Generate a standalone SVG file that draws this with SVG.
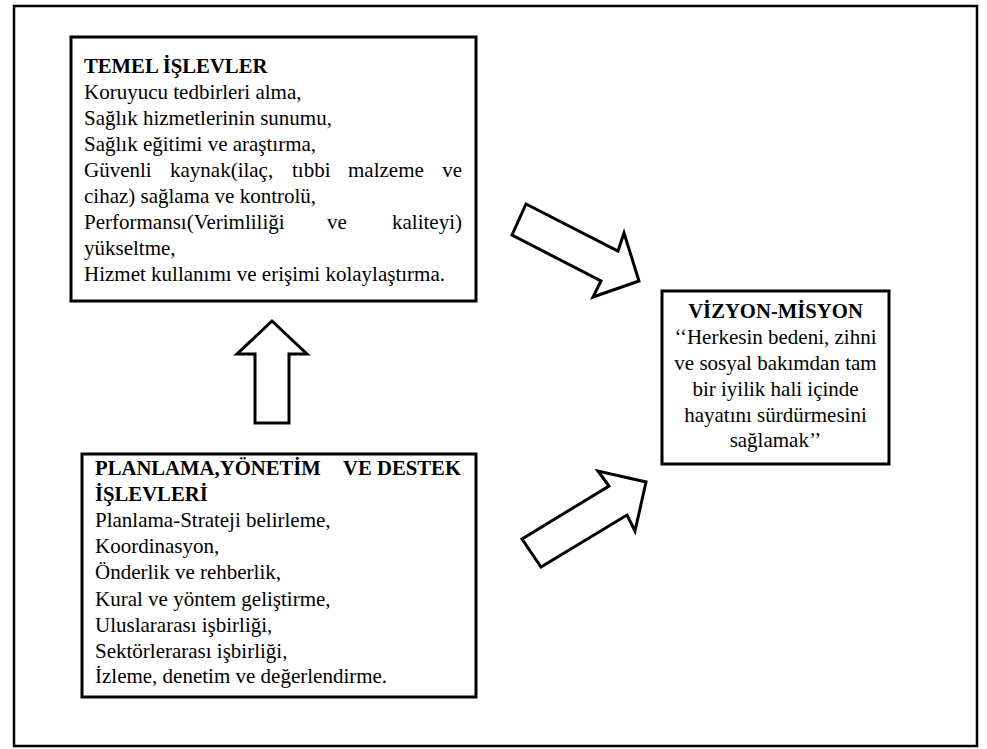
<svg xmlns="http://www.w3.org/2000/svg" width="987" height="749" viewBox="0 0 987 749">
  <style>
    .frame { fill: #ffffff; stroke: #000000; stroke-width: 2.5; }
    .box { fill: #ffffff; stroke: #000000; stroke-width: 3; }
    .arrow { fill: #ffffff; stroke: #000000; stroke-width: 3; stroke-linejoin: miter; }
    text { font-family: "Liberation Serif", "Times New Roman", serif; font-size: 21px; fill: #000000; }
    .title { font-weight: bold; font-size: 20.7px; }
    .mid { text-anchor: middle; }
  </style>

  <!-- outer border -->
  <rect class="frame" x="14" y="6" width="963" height="740"/>

  <!-- block arrows -->
  <g id="connectors">
    <polygon class="arrow" points="526,204 618,251 624,233 639,281 593,297 601,281 512,235"/>
    <polygon class="arrow" points="522,539 609,486 598,471 646,482 635,531 627,515 541,567"/>
    <polygon class="arrow" points="272,321 307,354 289,354 289,423 255,423 255,354 237,354"/>
  </g>

  <!-- core functions -->
  <g id="temel-islevler">
    <rect class="box" x="71" y="37" width="405" height="264"/>
    <text class="title" x="84" y="73">TEMEL İŞLEVLER</text>
    <text x="84" y="99">Koruyucu tedbirleri alma,</text>
    <text x="84" y="125">Sağlık hizmetlerinin sunumu,</text>
    <text x="84" y="151">Sağlık eğitimi ve araştırma,</text>
    <text y="177"><tspan x="84">Güvenli</tspan><tspan x="170">kaynak(ilaç,</tspan><tspan x="292">tıbbi</tspan><tspan x="348">malzeme</tspan><tspan x="462" text-anchor="end">ve</tspan></text>
    <text x="84" y="203">cihaz) sağlama ve kontrolü,</text>
    <text y="229"><tspan x="84">Performansı(Verimliliği</tspan><tspan x="327">ve</tspan><tspan x="462" text-anchor="end">kaliteyi)</tspan></text>
    <text x="84" y="255">yükseltme,</text>
    <text x="84" y="281">Hizmet kullanımı ve erişimi kolaylaştırma.</text>
  </g>

  <!-- planning, management and support functions -->
  <g id="planlama-yonetim-destek">
    <rect class="box" x="82" y="454" width="394" height="243"/>
    <text class="title" y="475"><tspan x="95">PLANLAMA,YÖNETİM</tspan><tspan x="343">VE</tspan><tspan x="461" text-anchor="end">DESTEK</tspan></text>
    <text class="title" x="95" y="501">İŞLEVLERİ</text>
    <text x="95" y="527">Planlama-Strateji belirleme,</text>
    <text x="95" y="553">Koordinasyon,</text>
    <text x="95" y="579">Önderlik ve rehberlik,</text>
    <text x="95" y="606">Kural ve yöntem geliştirme,</text>
    <text x="95" y="632">Uluslararası işbirliği,</text>
    <text x="95" y="658">Sektörlerarası işbirliği,</text>
    <text x="95" y="683">İzleme, denetim ve değerlendirme.</text>
  </g>

  <!-- vision and mission -->
  <g id="vizyon-misyon">
    <rect class="box" x="662" y="291" width="227" height="173"/>
    <text class="title mid" x="775.5" y="318">VİZYON-MİSYON</text>
    <text class="mid" x="775.5" y="344">‘‘Herkesin bedeni, zihni</text>
    <text class="mid" x="775.5" y="370">ve sosyal bakımdan tam</text>
    <text class="mid" x="775.5" y="396">bir iyilik hali içinde</text>
    <text class="mid" x="775.5" y="422">hayatını sürdürmesini</text>
    <text class="mid" x="775.5" y="447">sağlamak’’</text>
  </g>
</svg>
